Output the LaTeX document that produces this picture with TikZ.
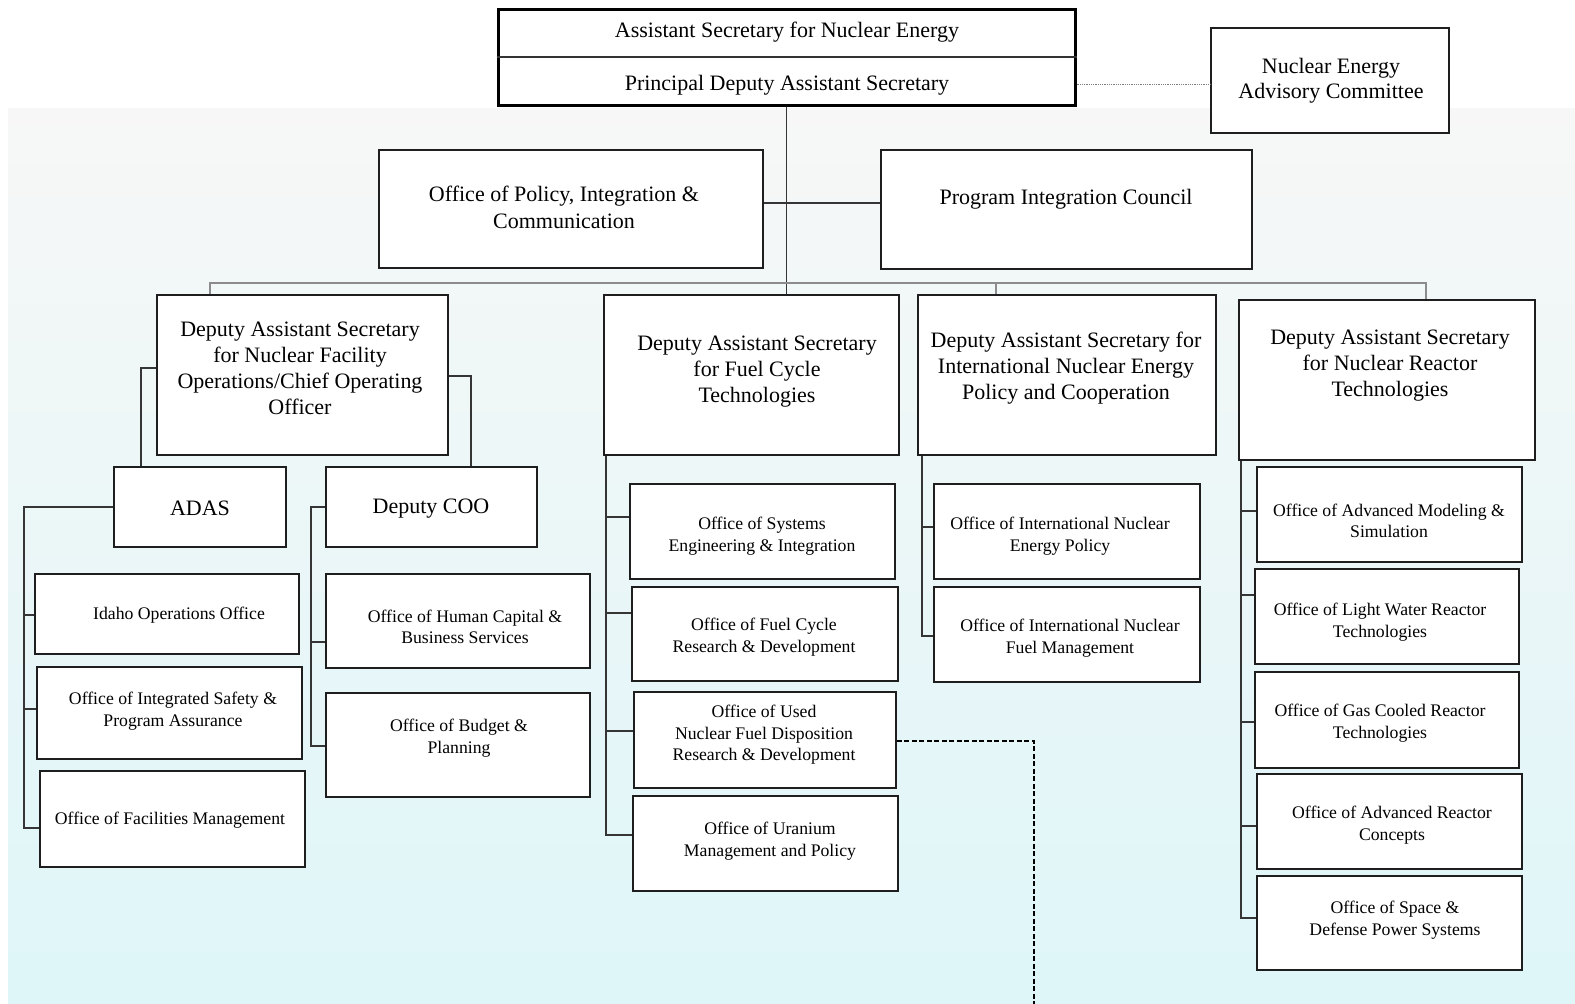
\documentclass[tikz,border=0pt]{standalone}
\usepackage{fontspec}
\setmainfont{Liberation Serif}
\usetikzlibrary{fit,calc}
\definecolor{bgtop}{RGB}{247,247,247}
\definecolor{bgbot}{RGB}{222,246,248}
\definecolor{lnc}{RGB}{30,30,30}
\tikzset{
  bx/.style={draw=lnc, line width=1.8pt, fill=white, inner sep=0pt},
  conn/.style={draw=lnc!90, line width=1.5pt},
  gline/.style={draw=black!45, line width=1.5pt},
  big/.style={font=\fontsize{22}{26}\selectfont, align=center, inner sep=0pt, yshift=-1.5pt},
  small/.style={font=\fontsize{17.7}{21.5}\selectfont, align=center, inner sep=0pt, yshift=-2pt},
}
\newcommand{\obox}[5]{\node[bx, fit={(#2,#3) (#4,#5)}] (#1) {};}
\begin{document}
\begin{tikzpicture}[x=1pt,y=-1pt]
\useasboundingbox (0,0) rectangle (1575,1004);
\fill[white] (0,0) rectangle (1575,1004);
\shade[top color=bgtop, bottom color=bgbot] (8,108) rectangle (1575,1004);

% top box
\node[draw=black, line width=3pt, fill=white, inner sep=0pt, fit={(498,9) (1075,105)}] (top) {};
\draw[line width=1.2pt, black!80] (top.west |- 0,57) -- (top.east |- 0,57);
\node[big] (t-top1) at (787,31) {Assistant Secretary for Nuclear Energy};
\node[big] (t-top2) at (787,84) {Principal Deputy Assistant Secretary};

% NEAC
\obox{neac}{1211}{28}{1449}{133}
\node[big, font=\fontsize{22}{25}\selectfont] (t-neac) at (1331,79) {Nuclear Energy\\Advisory Committee};
\draw[black!50, line width=0.8pt, densely dotted] (top.east |- 0,84) -- (neac.west |- 0,84);

% second level
\obox{pol}{379}{150}{763}{268}
\node[big, font=\fontsize{22}{27}\selectfont] (t-pol) at (564,206) {Office of Policy, Integration \&\\Communication};
\obox{pic}{881}{150}{1252}{269}
\node[big] (t-pic) at (1066,198) {Program Integration Council};

% DAS row
\obox{nfo}{157}{295}{448}{455}
\node[big] (t-nfo) at (300,367) {Deputy Assistant Secretary\\for Nuclear Facility\\Operations/Chief Operating\\Officer};
\obox{fct}{604}{295}{899}{455}
\node[big] (t-fct) at (757,370) {Deputy Assistant Secretary\\for Fuel Cycle\\Technologies};
\obox{intl}{918}{295}{1216}{455}
\node[big] (t-intl) at (1066,367) {Deputy Assistant Secretary for\\International Nuclear Energy\\Policy and Cooperation};
\obox{nrt}{1239}{300}{1535}{460}
\node[big] (t-nrt) at (1390,364) {Deputy Assistant Secretary\\for Nuclear Reactor\\Technologies};

% ADAS / Deputy COO
\obox{adas}{114}{467}{286}{547}
\node[big] (t-adas) at (200,507) {ADAS};
\obox{dcoo}{326}{467}{537}{547}
\node[big] (t-dcoo) at (431,507) {Deputy COO};

% ADAS children
\obox{idaho}{35}{574}{299}{654}
\node[small] (t-idaho) at (179,613) {Idaho Operations Office};
\obox{safety}{37}{667}{302}{759}
\node[small] (t-safety) at (173,709) {Office of Integrated Safety \&\\Program Assurance};
\obox{facil}{40}{771}{305}{867}
\node[small] (t-facil) at (170,818) {Office of Facilities Management};

% Deputy COO children
\obox{human}{326}{574}{590}{668}
\node[small] (t-human) at (465,625) {Office of Human Capital \&\\Business Services};
\obox{budget}{326}{693}{590}{797}
\node[small] (t-budget) at (459,736) {Office of Budget \&\\Planning};

% FCT children
\obox{syseng}{630}{484}{895}{579}
\node[small] (t-syseng) at (762,534) {Office of Systems\\Engineering \& Integration};
\obox{fcrd}{632}{587}{898}{681}
\node[small] (t-fcrd) at (764,635) {Office of Fuel Cycle\\Research \& Development};
\obox{used}{634}{692}{896}{788}
\node[small] (t-used) at (764,733) {Office of Used\\Nuclear Fuel Disposition\\Research \& Development};
\obox{uran}{633}{796}{898}{891}
\node[small] (t-uran) at (770,839) {Office of Uranium\\Management and Policy};

% Intl children
\obox{inep}{934}{484}{1200}{579}
\node[small] (t-inep) at (1060,534) {Office of International Nuclear\\Energy Policy};
\obox{infm}{934}{587}{1200}{682}
\node[small] (t-infm) at (1070,636) {Office of International Nuclear\\Fuel Management};

% NRT children
\obox{ams}{1257}{467}{1522}{562}
\node[small] (t-ams) at (1389,519) {Office of Advanced Modeling \&\\Simulation};
\obox{lwr}{1255}{569}{1519}{664}
\node[small] (t-lwr) at (1380,620) {Office of Light Water Reactor\\Technologies};
\obox{gcr}{1255}{672}{1519}{768}
\node[small] (t-gcr) at (1380,721) {Office of Gas Cooled Reactor\\Technologies};
\obox{arc}{1257}{774}{1522}{869}
\node[small] (t-arc) at (1392,823) {Office of Advanced Reactor\\Concepts};
\obox{space}{1257}{876}{1522}{970}
\node[small] (t-space) at (1395,918) {Office of Space \&\\Defense Power Systems};

% connectors
\draw[conn] (top.south) -- (top.south |- fct.north);
\draw[conn] (pol.east |- 0,203) -- (pic.west |- 0,203);
\draw[gline] (nfo.north -| 210,0) -- (210,283) -- (1426,283) -- (nrt.north -| 1426,0);
\draw[gline] (996,283) -- (intl.north -| 996,0);

\draw[conn] (nfo.west |- 0,368) -| (adas.north -| 141,0);
\draw[conn] (nfo.east |- 0,376) -| (dcoo.north -| 471,0);

\draw[conn] (adas.west) -| (24,828) -- (facil.west |- 0,828);
\draw[conn] (24,615) -- (idaho.west |- 0,615);
\draw[conn] (24,709) -- (safety.west |- 0,709);

\draw[conn] (dcoo.west) -| (311,746) -- (budget.west |- 0,746);
\draw[conn] (311,642) -- (human.west |- 0,642);

\draw[conn] (fct.south -| 606,0) -- (606,835) -- (uran.west |- 0,835);
\draw[conn] (606,517) -- (syseng.west |- 0,517);
\draw[conn] (606,613) -- (fcrd.west |- 0,613);
\draw[conn] (606,731) -- (used.west |- 0,731);

\draw[conn] (intl.south -| 922,0) -- (922,636) -- (infm.west |- 0,636);
\draw[conn] (922,527) -- (inep.west |- 0,527);

\draw[conn] (nrt.south -| 1241,0) -- (1241,918) -- (space.west |- 0,918);
\draw[conn] (1241,511) -- (ams.west |- 0,511);
\draw[conn] (1241,595) -- (lwr.west |- 0,595);
\draw[conn] (1241,722) -- (gcr.west |- 0,722);
\draw[conn] (1241,826) -- (arc.west |- 0,826);

\coordinate (dashend) at (1034,1004);
\draw[line width=1.4pt, dash pattern=on 5pt off 2.5pt] (used.east |- 0,741) -| (dashend);
\end{tikzpicture}
\end{document}
